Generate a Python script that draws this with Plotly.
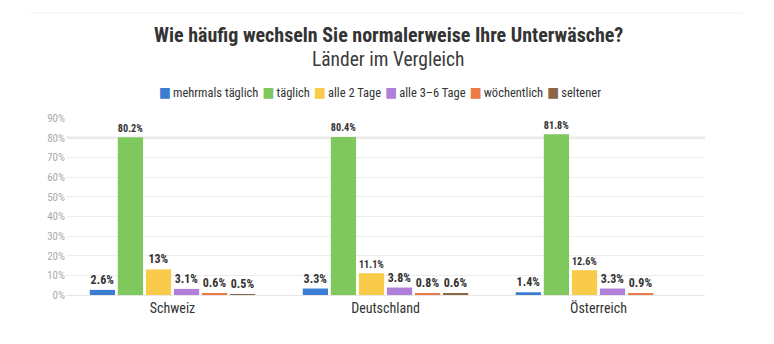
import plotly.graph_objects as go

# Survey: how often people change their underwear, by country
countries = ["Schweiz", "Deutschland", "Österreich"]
answers = ["mehrmals täglich", "täglich", "alle 2 Tage", "alle 3–6 Tage", "wöchentlich", "seltener"]

mehrmals_taeglich = [2.6, 3.3, 1.4]
taeglich = [80.2, 80.4, 81.8]
alle_2_tage = [13, 11.1, 12.6]
alle_3_6_tage = [3.1, 3.8, 3.3]
woechentlich = [0.6, 0.8, 0.9]
seltener = [0.5, 0.6, None]

series = [mehrmals_taeglich, taeglich, alle_2_tage, alle_3_6_tage, woechentlich, seltener]
colors = ["#3b7dd1", "#7ec85e", "#f8cb4a", "#b07fd8", "#ec7a48", "#8b6647"]

# emphasised gridline value
HIGHLIGHT_GRID = 80

FONT = "Roboto Condensed, Liberation Sans Narrow, DejaVu Sans Condensed, Roboto, sans-serif"

fig = go.Figure()
for name, vals, col in zip(answers, series, colors):
    fig.add_trace(go.Bar(
        name=name,
        x=countries,
        y=vals,
        marker=dict(color=col, line=dict(width=0)),
        texttemplate="<b>%{y}</b>",
        textposition="outside",
        textfont=dict(family=FONT, size=12, color="#333333"),
        cliponaxis=False,
        showlegend=False,
    ))

# compact legend line: coloured square followed by the answer label
legend_text = "<span style='font-size:18px'> </span>".join(
    f"<span style='color:{c}'>■</span><span style='font-size:9px'> </span>"
    f"<span style='font-size:12.5px'>{a}</span>"
    for a, c in zip(answers, colors)
)

fig.update_layout(
    width=774,
    height=344,
    margin=dict(l=66, r=69, t=118, b=49),
    paper_bgcolor="white",
    plot_bgcolor="white",
    font=dict(family=FONT, color="#333333"),
    barmode="group",
    bargap=0.21,
    bargroupgap=0.1,
    uniformtext=dict(mode=False),
    annotations=[
        dict(text="<b>Wie häufig wechseln Sie normalerweise Ihre Unterwäsche?</b>",
             x=0.504, y=1.469, xref="paper", yref="paper", showarrow=False,
             xanchor="center", yanchor="middle",
             font=dict(family=FONT, size=20, color="#333333")),
        dict(text="Länder im Vergleich",
             x=0.504, y=1.328, xref="paper", yref="paper", showarrow=False,
             xanchor="center", yanchor="middle",
             font=dict(family=FONT, size=19.5, color="#3a3a3a")),
        dict(text=legend_text,
             x=0.492, y=1.153, xref="paper", yref="paper", showarrow=False,
             xanchor="center", yanchor="middle",
             font=dict(family=FONT, size=14, color="#333333")),
    ],
    shapes=[
        dict(type="line", xref="paper", yref="paper",
             x0=-0.056, x1=1.059, y0=1.593, y1=1.593,
             line=dict(color="#eeeeee", width=1)),
        dict(type="line", xref="paper", yref="y", layer="below",
             x0=0, x1=1, y0=HIGHLIGHT_GRID, y1=HIGHLIGHT_GRID,
             line=dict(color="#e8e8e8", width=2.5)),
    ],
)

fig.update_xaxes(
    showgrid=False,
    showline=True,
    linecolor="#e6e6e6",
    linewidth=1,
    ticks="",
    tickfont=dict(family=FONT, size=14, color="#333333"),
)
fig.update_yaxes(
    range=[0, 90],
    dtick=10,
    ticksuffix="%",
    showgrid=True,
    gridcolor="#eeeeee",
    gridwidth=1,
    zeroline=False,
    tickfont=dict(family=FONT, size=11, color="#aaaaaa"),
)

fig.write_html("out.html")
